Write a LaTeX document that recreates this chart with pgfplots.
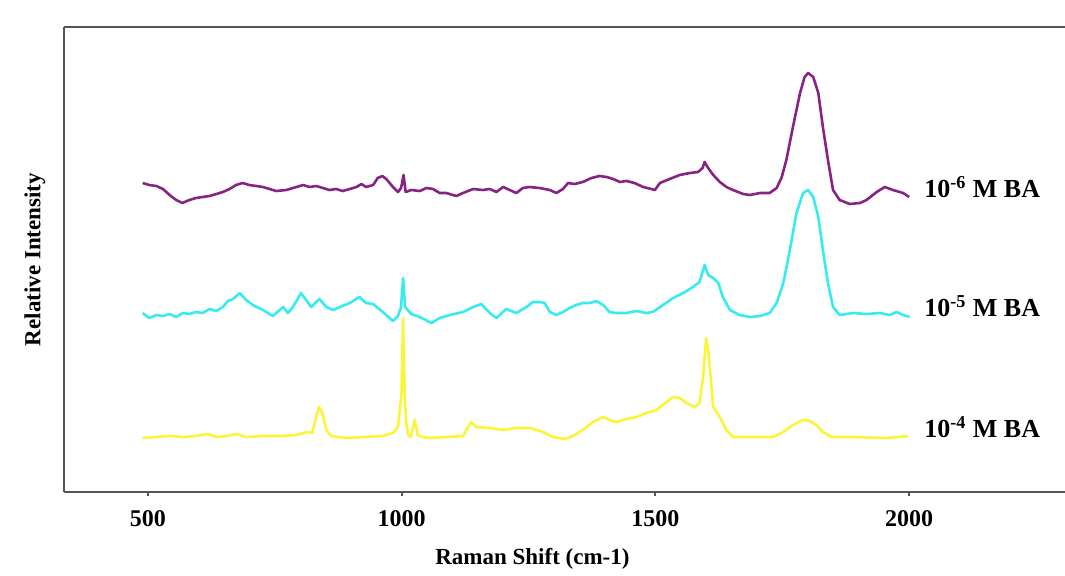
\documentclass[border=0pt]{standalone}
\usepackage{fontspec}
\setmainfont{Liberation Serif}
\usepackage{pgfplots}
\pgfplotsset{compat=1.18}

\definecolor{axgray}{RGB}{85,85,85}
\definecolor{spPurple}{RGB}{135,35,130}
\definecolor{spCyan}{RGB}{55,235,240}
\definecolor{spYellow}{RGB}{250,245,55}

% intensities (arbitrary units, offset per trace)
\pgfplotstableread{
x y
490 309
503 307
517 306
530 303
543 297
556 292
568 289
582 292
595 294
608 295
622 296
635 298
648 300
661 303
674 307
687 309
700 307
714 306
727 305
740 303
753 301
773 302
793 305
806 307
819 305
832 306
845 304
858 302
871 303
884 301
898 303
911 305
921 308
930 305
944 307
953 314
962 316
970 313
983 305
993 300
999 304
1004 317
1008 300
1019 302
1036 301
1049 304
1062 303
1075 299
1088 299
1108 296
1121 299
1141 303
1160 302
1174 303
1187 300
1200 305
1213 302
1226 299
1239 304
1252 305
1272 304
1292 302
1305 299
1318 303
1328 309
1341 308
1357 310
1374 314
1390 316
1404 315
1417 313
1430 310
1443 311
1459 309
1476 305
1492 303
1499 302
1509 309
1528 313
1548 317
1568 319
1584 320
1593 324
1597 330
1604 324
1614 317
1627 310
1640 305
1653 302
1673 298
1686 297
1706 299
1725 299
1739 304
1749 315
1758 332
1771 365
1785 399
1794 415
1801 419
1811 415
1821 399
1830 365
1840 332
1850 302
1863 292
1883 288
1903 289
1916 292
1936 300
1952 305
1968 302
1988 299
2000 295
}\sixM

\pgfplotstableread{
x y
490 179
503 174
517 177
530 176
543 178
556 175
569 179
582 178
595 180
608 179
622 183
635 181
648 185
658 191
668 193
681 199
694 192
707 187
727 182
746 176
760 182
767 185
776 179
786 185
802 199
812 192
822 185
838 193
852 185
865 182
878 185
898 189
917 195
930 189
944 188
963 180
983 171
993 176
999 185
1003 214
1007 185
1019 178
1036 175
1059 169
1075 174
1095 177
1121 180
1141 185
1157 188
1174 179
1187 174
1206 183
1226 179
1246 185
1259 190
1272 190
1282 189
1292 180
1305 177
1318 180
1331 184
1344 187
1357 189
1371 189
1384 191
1397 187
1410 180
1423 179
1443 179
1463 181
1482 179
1495 180
1515 187
1535 194
1555 199
1574 205
1587 210
1597 227
1604 217
1614 214
1624 209
1633 195
1647 182
1666 177
1686 175
1706 176
1725 179
1739 189
1752 209
1765 242
1778 279
1791 299
1801 302
1811 295
1821 275
1830 242
1840 209
1850 185
1863 177
1890 179
1916 178
1942 179
1962 177
1975 180
1988 177
2001 175
}\fiveM

\pgfplotstableread{
x y
490 54
517 55
543 56
569 55
595 56
618 58
635 55
655 56
674 58
694 55
727 56
760 56
793 57
806 59
815 60
824 59
832 75
837 85
844 79
852 62
861 56
891 54
924 55
963 56
983 59
993 65
1000 99
1003 174
1006 99
1009 70
1013 57
1018 55
1026 72
1032 57
1040 55
1056 54
1088 55
1121 56
1131 65
1137 70
1147 65
1174 64
1200 62
1226 64
1252 64
1279 60
1298 55
1321 53
1338 56
1357 62
1377 70
1397 75
1410 72
1423 70
1443 73
1463 75
1482 79
1502 82
1522 90
1535 95
1548 94
1561 89
1578 85
1587 89
1594 115
1600 154
1604 142
1609 115
1614 85
1627 75
1640 62
1653 55
1692 55
1732 55
1752 60
1771 67
1791 72
1804 71
1817 67
1830 60
1847 55
1890 55
1955 54
1998 56
}\fourM

\begin{document}
\begin{tikzpicture}
\path[use as bounding box] (-32pt,-41.5pt) rectangle (500.5pt,246pt);
\begin{axis}[
    scale only axis,
    width=500.5pt,
    height=232.5pt,
    xmin=335, xmax=2307,
    ymin=0, ymax=465,
    axis lines*=left,
    axis line style={line width=1.2pt, color=axgray},
    clip=false,
    xtick={500,1000,1500,2000},
    ytick=\empty,
    tick align=outside,
    major tick length=2pt,
    tick style={line width=1pt, color=axgray},
    /pgf/number format/1000 sep={},
    /pgf/number format/assume math mode=true,
    xticklabel style={font=\bfseries\fontsize{12}{12}\selectfont, anchor=base, yshift=-15pt},
    xlabel={Raman Shift (cm-1)},
    ylabel={Relative Intensity},
    every axis x label/.style={at={([yshift=-36pt]axis description cs:0.468,0)}, anchor=base, font=\bfseries\fontsize{11.5}{11.5}\selectfont},
    every axis y label/.style={at={([xshift=-11.75pt]axis description cs:0,0.5)}, rotate=90, anchor=base, font=\bfseries\fontsize{11.5}{11.5}\selectfont},
    every axis plot/.append style={line width=1.3pt, line join=round},
]
\draw[line width=1.2pt, color=axgray] (rel axis cs:0,1) -- (rel axis cs:1,1);
\addplot[color=spPurple] table {\sixM};
\addplot[color=spCyan] table {\fiveM};
\addplot[color=spYellow] table {\fourM};
\node[anchor=west, inner xsep=0pt, font=\bfseries\fontsize{13}{13}\selectfont] at (axis cs:2029,305) {10\textsuperscript{-6} M BA};
\node[anchor=west, inner xsep=0pt, font=\bfseries\fontsize{13}{13}\selectfont] at (axis cs:2029,186) {10\textsuperscript{-5} M BA};
\node[anchor=west, inner xsep=0pt, font=\bfseries\fontsize{13}{13}\selectfont] at (axis cs:2029,65) {10\textsuperscript{-4} M BA};
\end{axis}
\end{tikzpicture}
\end{document}
